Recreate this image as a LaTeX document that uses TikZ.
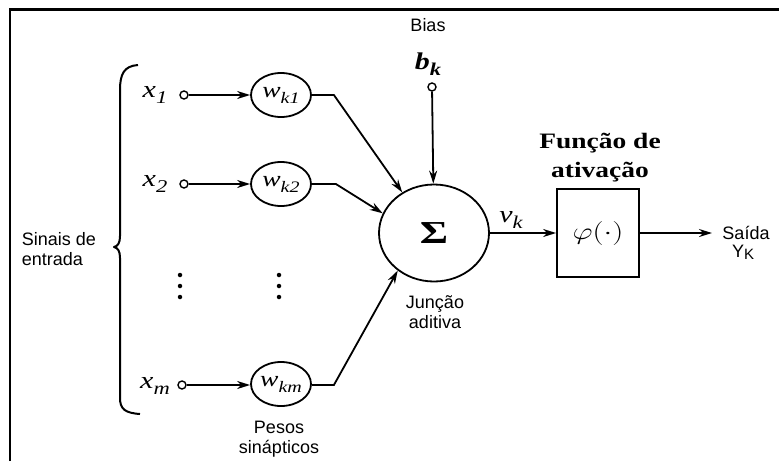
\RequirePackage{fix-cm}
\documentclass[tikz,border=0pt]{standalone}
\usepackage{fontspec}
\usepackage{amsmath}
\newfontfamily\arialf{Liberation Sans}
\newfontfamily\timesf{Liberation Serif}
\newcommand\lab[4][24]{\scalebox{1.25}[1]{\fontsize{#1}{#1}\selectfont #3\raisebox{-6pt}{\fontsize{#2}{#2}\selectfont #4}}}
\usetikzlibrary{arrows.meta,shapes.geometric}
\begin{document}
\begin{tikzpicture}[x=1pt,y=-1pt,
  line width=1.8pt,
  arr/.style={-{Stealth[length=13pt,width=8pt]}},
  wnode/.style={draw, ellipse, minimum width=60pt, minimum height=44pt, inner sep=0pt,
    font=\timesf\itshape},
  innode/.style={draw, circle, minimum size=8pt, inner sep=0pt, line width=1.4pt},
  mathlbl/.style={font=\timesf\itshape, inner sep=0pt},
  sanslbl/.style={font=\arialf\fontsize{18}{20}\selectfont, align=center, inner sep=0pt},
  seriflbl/.style={font=\timesf\bfseries\fontsize{22}{29}\selectfont, align=center, inner sep=0pt},
  dotp/.style={fill, circle, minimum size=4.5pt, inner sep=0pt}]
\useasboundingbox (0,0) rectangle (779,461);
\fill[white] (0,0) rectangle (779,461);
\draw[line width=2.6pt] (9.8,461) -- (9.8,9.5) -- (779,9.5);

% weights
\node[wnode] (w1) at (281,95) {\lab[22]{16}{w}{k1}};
\node[wnode] (w2) at (281,184) {\lab[22]{16}{w}{k2}};
\node[wnode] (wm) at (281,384) {\lab[22]{16}{w}{km}};

% inputs
\node[innode] (i1) at (184,95) {};
\node[innode] (i2) at (184,184) {};
\node[innode] (im) at (182,385) {};
\node[mathlbl] (x1) at (155,95) {\lab{18}{x}{1}};
\node[mathlbl] (x2) at (155,184) {\lab{18}{x}{2}};
\node[mathlbl] (xm) at (155,386) {\lab{18}{x}{m}};

% dots
\foreach \xx in {180,279} {
  \node[dotp] (d1\xx) at (\xx,275) {};
  \node[dotp] (d2\xx) at (\xx,286) {};
  \node[dotp] (d3\xx) at (\xx,297) {};
}

% summing junction
\node[draw, ellipse, minimum width=110pt, minimum height=97pt, inner sep=0pt] (sum) at (434,233)
  {\timesf\bfseries\fontsize{32}{34}\selectfont\scalebox{1.35}[1]{Σ}};
\node[innode] (bias) at (432,87) {};
\node[mathlbl, font=\timesf\bfseries\itshape] (bk) at (428,64) {\lab{18}{b}{k}};
\node[sanslbl] (biasl) at (428,25) {Bias};

% activation box
\node[draw, rectangle, minimum width=82pt, minimum height=88pt, inner sep=0pt] (box) at (598,233)
  {\fontsize{24}{26}\selectfont\scalebox{1.3}[1]{$\varphi(\cdot)$}};
\coordinate (out) at (712,233);
\node[mathlbl] (vk) at (511,220) {\lab{18}{v}{k}};

% connectors
\draw[arr] (i1) -- (w1);
\draw[arr] (i2) -- (w2);
\draw[arr] (im) -- (wm.west |- im);
\draw[arr] (w1.east) -- ++(22,0) -- (sum.128);
\draw[arr] (w2.east) -- ++(24,0) -- (sum.159);
\draw[arr] (wm.east |- im) -- ++(22,0) -- (sum.226);
\draw[arr] (bias) -- (sum);
\draw[arr] (sum) -- (box);
\draw[arr] (box) -- (out);

% brace
\draw[line width=2pt, line join=round] (138,65) .. controls (124,66) and (120,74) .. (120,90)
  -- (120,236) .. controls (120,243) and (118,246) .. (114,247)
  .. controls (118,248) and (120,251) .. (120,258)
  -- (120,398) .. controls (120,409) and (125,413) .. (140,414);

% texts
\node[sanslbl, align=left, anchor=west] (sinais) at (21,249) {Sinais de\\entrada};
\node[sanslbl] (junc) at (435,312) {Junção\\aditiva};
\node[sanslbl] (pesos) at (279,439) {Pesos\\sinápticos};
\node[sanslbl] (saida) at (746,233) {Saída};
\node[sanslbl] (yk) at (743,252) {Y\raisebox{-2pt}{\fontsize{15}{15}\selectfont K}};
\node[seriflbl] (func) at (600,158) {\scalebox{1.25}[1]{Função de}\\\scalebox{1.25}[1]{ativação}};
\end{tikzpicture}
\end{document}
